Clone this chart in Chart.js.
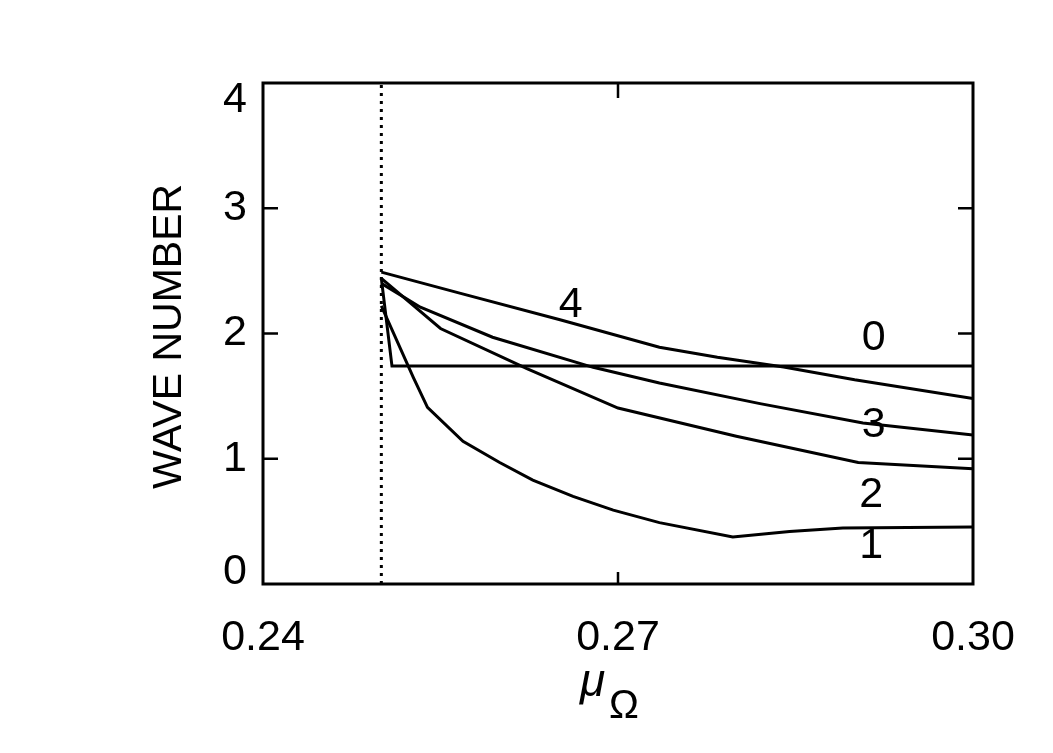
<!DOCTYPE html>
<html>
<head>
<meta charset="utf-8">
<script src="https://cdn.jsdelivr.net/npm/chart.js@4/dist/chart.umd.min.js"></script>
<style>
  html, body { margin: 0; padding: 0; background: #fff; }
  #wrap { width: 1053px; height: 753px; }
</style>
</head>
<body>
<div id="wrap"><canvas id="waveChart" width="1053" height="753"></canvas></div>
<script>
// axis ticks
const xTicks = [0.24, 0.27, 0.30];
const xTickLabels = ['0.24', '0.27', '0.30'];
const yTicks = [0, 1, 2, 3, 4];
const yTickLabels = ['0', '1', '2', '3', '4'];

// marginal value of mu_Omega (dotted line)
const muCrit = 0.25;

// curves
const x0 = [0.25, 0.2509, 0.30];
const y0 = [2.44, 1.74, 1.74];

const x1 = [0.25, 0.2527, 0.2539, 0.2569, 0.26, 0.2628, 0.2662, 0.2696, 0.2735, 0.2797, 0.2845, 0.289, 0.30];
const y1 = [2.22, 1.65, 1.41, 1.14, 0.97, 0.83, 0.70, 0.59, 0.49, 0.375, 0.42, 0.447, 0.455];

const x2 = [0.25, 0.255, 0.2623, 0.27, 0.28, 0.2903, 0.30];
const y2 = [2.44, 2.04, 1.72, 1.405, 1.18, 0.97, 0.92];

const x3 = [0.25, 0.2533, 0.2594, 0.2679, 0.2735, 0.282, 0.2907, 0.30];
const y3 = [2.40, 2.21, 1.97, 1.73, 1.605, 1.44, 1.285, 1.19];

const x4 = [0.25, 0.2567, 0.2651, 0.2735, 0.2784, 0.284, 0.29, 0.30];
const y4 = [2.49, 2.32, 2.11, 1.89, 1.81, 1.733, 1.63, 1.48];

// curve labels
const curveNames = ['4', '0', '3', '2', '1'];
const curveNameX = [0.266, 0.2916, 0.2916, 0.2914, 0.2914];
const curveNameY = [2.23, 1.96, 1.27, 0.71, 0.30];

const pts = (xs, ys) => xs.map((x, i) => ({ x: x, y: ys[i] }));

const FONT = '"Liberation Sans", Arial, Helvetica, sans-serif';

const curve = (xs, ys) => ({
    data: pts(xs, ys),
    borderColor: '#000',
    borderWidth: 3,
    pointRadius: 0,
    tension: 0,
    fill: false
});

// frame, inward ticks and all texts
const framePlugin = {
    id: 'frame',
    afterDatasetsDraw(chart) {
        const ctx = chart.ctx;
        const a = chart.chartArea;
        const xs = chart.scales.x, ys = chart.scales.y;
        ctx.save();
        ctx.strokeStyle = '#000';
        ctx.lineWidth = 3;
        ctx.strokeRect(a.left, a.top, a.right - a.left, a.bottom - a.top);

        ctx.lineWidth = 2.5;
        ctx.beginPath();
        xTicks.forEach(v => {
            const px = xs.getPixelForValue(v);
            if (px <= a.left + 2 || px >= a.right - 2) return;
            ctx.moveTo(px, a.bottom); ctx.lineTo(px, a.bottom - 12);
            ctx.moveTo(px, a.top); ctx.lineTo(px, a.top + 15);
        });
        yTicks.forEach(v => {
            const py = ys.getPixelForValue(v);
            if (py <= a.top + 2 || py >= a.bottom - 2) return;
            ctx.moveTo(a.left, py); ctx.lineTo(a.left + 15, py);
            ctx.moveTo(a.right, py); ctx.lineTo(a.right - 15, py);
        });
        ctx.stroke();

        ctx.fillStyle = '#000';
        ctx.font = '43px ' + FONT;
        ctx.textAlign = 'center';
        ctx.textBaseline = 'middle';
        xTicks.forEach((v, i) => {
            ctx.fillText(xTickLabels[i], xs.getPixelForValue(v), a.bottom + 54);
        });
        ctx.textAlign = 'right';
        yTicks.forEach((v, i) => {
            let py = ys.getPixelForValue(v);
            py = Math.max(a.top + 17, Math.min(a.bottom - 12, py));
            ctx.fillText(yTickLabels[i], a.left - 16, py);
        });

        ctx.textAlign = 'center';
        curveNames.forEach((t, i) => {
            ctx.fillText(t, xs.getPixelForValue(curveNameX[i]), ys.getPixelForValue(curveNameY[i]));
        });

        // y title
        ctx.save();
        ctx.translate(170, (a.top + a.bottom) / 2 + 3);
        ctx.rotate(-Math.PI / 2);
        ctx.font = '41px ' + FONT;
        ctx.fillText('WAVE NUMBER', 0, 0);
        ctx.restore();

        // x title: mu with subscript Omega
        ctx.textAlign = 'left';
        ctx.textBaseline = 'alphabetic';
        ctx.font = 'italic 46px ' + FONT;
        ctx.fillText('\u03bc', 580, 696);
        ctx.font = '40px ' + FONT;
        ctx.fillText('\u03a9', 609, 718);
        ctx.restore();
    }
};

const ctx = document.getElementById('waveChart').getContext('2d');

const waveChart = new Chart(ctx, {
    type: 'line',
    data: {
        datasets: [
            {
                data: [{ x: muCrit, y: yTicks[0] }, { x: muCrit, y: yTicks[yTicks.length - 1] }],
                borderColor: '#000',
                borderWidth: 3,
                borderDash: [3, 5],
                pointRadius: 0
            },
            curve(x0, y0),
            curve(x1, y1),
            curve(x2, y2),
            curve(x3, y3),
            curve(x4, y4)
        ]
    },
    options: {
        responsive: false,
        animation: false,
        layout: { padding: { left: 263, right: 80, top: 83, bottom: 169 } },
        plugins: {
            legend: { display: false },
            tooltip: { enabled: false }
        },
        scales: {
            x: { type: 'linear', min: 0.24, max: 0.30, display: false },
            y: { type: 'linear', min: 0, max: 4, display: false }
        }
    },
    plugins: [framePlugin]
});
</script>
</body>
</html>
